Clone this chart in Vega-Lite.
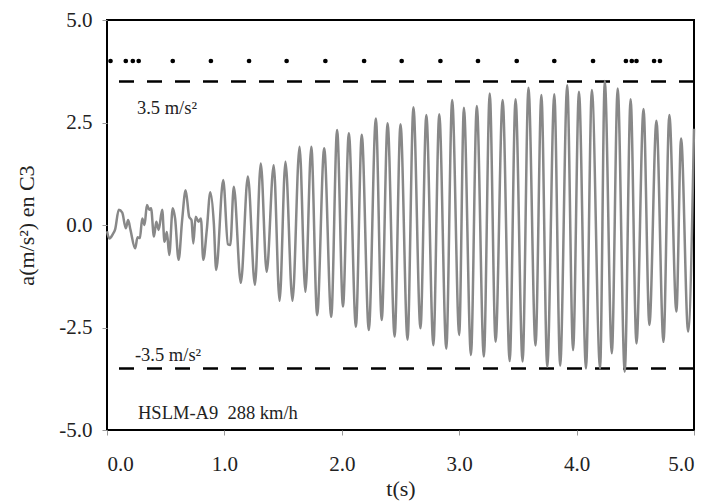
{
  "$schema": "https://vega.github.io/schema/vega-lite/v6.json",
  "width": 587,
  "height": 410,
  "autosize": {"type": "none"},
  "padding": {"left": 107, "top": 20, "right": 17, "bottom": 74},
  "background": "white",
  "config": {
    "view": {"stroke": "black", "strokeWidth": 2},
    "font": "serif",
    "axis": {
      "grid": false,
      "domain": false,
      "tickColor": "#999999",
      "tickSize": 5,
      "labelFont": "serif",
      "labelFontSize": 21,
      "labelColor": "#222222",
      "titleFont": "serif",
      "titleFontSize": 22,
      "titleFontWeight": "normal",
      "titleColor": "#222222"
    },
    "text": {"font": "serif"}
  },
  "datasets": {
    "signal": [
      {"t": 0.00, "a": -0.15}, {"t": 0.02, "a": -0.33}, {"t": 0.05, "a": -0.22}, {"t": 0.07, "a": -0.10},
      {"t": 0.10, "a": 0.37}, {"t": 0.13, "a": 0.30}, {"t": 0.16, "a": -0.08}, {"t": 0.18, "a": 0.12},
      {"t": 0.20, "a": -0.12}, {"t": 0.24, "a": -0.57}, {"t": 0.26, "a": -0.30}, {"t": 0.28, "a": -0.32},
      {"t": 0.30, "a": 0.16}, {"t": 0.32, "a": 0.00}, {"t": 0.34, "a": 0.49}, {"t": 0.36, "a": 0.37},
      {"t": 0.375, "a": 0.41}, {"t": 0.40, "a": -0.28}, {"t": 0.42, "a": 0.08}, {"t": 0.44, "a": -0.12},
      {"t": 0.47, "a": 0.37}, {"t": 0.49, "a": -0.41}, {"t": 0.51, "a": -0.17}, {"t": 0.53, "a": -0.73},
      {"t": 0.56, "a": 0.41}, {"t": 0.58, "a": 0.16}, {"t": 0.61, "a": -0.85}, {"t": 0.64, "a": 0.12},
      {"t": 0.67, "a": 0.85}, {"t": 0.70, "a": 0.20}, {"t": 0.72, "a": 0.12}, {"t": 0.735, "a": -0.45},
      {"t": 0.755, "a": 0.20}, {"t": 0.78, "a": 0.08}, {"t": 0.80, "a": 0.16}, {"t": 0.82, "a": -0.85},
      {"t": 0.85, "a": -0.12}, {"t": 0.88, "a": 0.80}, {"t": 0.91, "a": 0.04}, {"t": 0.93, "a": -1.10},
      {"t": 0.99, "a": 1.10}, {"t": 1.03, "a": -0.47}, {"t": 1.05, "a": -0.49}, {"t": 1.08, "a": 0.93},
      {"t": 1.14, "a": -1.41}, {"t": 1.20, "a": 1.18}, {"t": 1.26, "a": -1.46}, {"t": 1.31, "a": 1.50},
      {"t": 1.36, "a": -1.14}, {"t": 1.42, "a": 1.46}, {"t": 1.47, "a": -1.85}, {"t": 1.52, "a": 1.54},
      {"t": 1.58, "a": -1.85}, {"t": 1.64, "a": 1.91}, {"t": 1.69, "a": -1.63}, {"t": 1.74, "a": 1.91},
      {"t": 1.79, "a": -2.20}, {"t": 1.85, "a": 1.87}, {"t": 1.91, "a": -2.24}, {"t": 1.96, "a": 2.32},
      {"t": 2.01, "a": -1.99}, {"t": 2.06, "a": 2.24}, {"t": 2.12, "a": -2.48}, {"t": 2.17, "a": 2.20},
      {"t": 2.23, "a": -2.56}, {"t": 2.29, "a": 2.60}, {"t": 2.34, "a": -2.32}, {"t": 2.39, "a": 2.48},
      {"t": 2.45, "a": -2.72}, {"t": 2.50, "a": 2.46}, {"t": 2.56, "a": -2.80}, {"t": 2.61, "a": 2.87},
      {"t": 2.67, "a": -2.52}, {"t": 2.72, "a": 2.68}, {"t": 2.78, "a": -2.93}, {"t": 2.83, "a": 2.70},
      {"t": 2.89, "a": -3.02}, {"t": 2.94, "a": 3.05}, {"t": 3.00, "a": -2.68}, {"t": 3.04, "a": 2.86},
      {"t": 3.10, "a": -3.17}, {"t": 3.15, "a": 2.90}, {"t": 3.21, "a": -3.21}, {"t": 3.26, "a": 3.21},
      {"t": 3.31, "a": -2.85}, {"t": 3.37, "a": 3.05}, {"t": 3.43, "a": -3.32}, {"t": 3.48, "a": 3.07},
      {"t": 3.54, "a": -3.33}, {"t": 3.59, "a": 3.35}, {"t": 3.65, "a": -2.94}, {"t": 3.70, "a": 3.17},
      {"t": 3.75, "a": -3.46}, {"t": 3.81, "a": 3.19}, {"t": 3.86, "a": -3.43}, {"t": 3.92, "a": 3.41},
      {"t": 3.97, "a": -3.05}, {"t": 4.02, "a": 3.25}, {"t": 4.08, "a": -3.50}, {"t": 4.13, "a": 3.29},
      {"t": 4.20, "a": -3.50}, {"t": 4.24, "a": 3.51}, {"t": 4.30, "a": -3.13}, {"t": 4.35, "a": 3.33},
      {"t": 4.41, "a": -3.58}, {"t": 4.46, "a": 3.07}, {"t": 4.51, "a": -2.89}, {"t": 4.57, "a": 2.83},
      {"t": 4.62, "a": -2.44}, {"t": 4.68, "a": 2.54}, {"t": 4.74, "a": -2.85}, {"t": 4.79, "a": 2.68},
      {"t": 4.85, "a": -2.11}, {"t": 4.89, "a": 2.11}, {"t": 4.95, "a": -2.60}, {"t": 5.00, "a": 2.35}
    ],
    "limits": [{"a": 3.5}, {"a": -3.5}],
    "marks": [
      {"t": 0.03, "a": 4}, {"t": 0.16, "a": 4}, {"t": 0.22, "a": 4}, {"t": 0.27, "a": 4},
      {"t": 0.56, "a": 4}, {"t": 0.885, "a": 4}, {"t": 1.21, "a": 4}, {"t": 1.53, "a": 4},
      {"t": 1.86, "a": 4}, {"t": 2.19, "a": 4}, {"t": 2.51, "a": 4}, {"t": 2.84, "a": 4},
      {"t": 3.16, "a": 4}, {"t": 3.49, "a": 4}, {"t": 3.81, "a": 4}, {"t": 4.14, "a": 4},
      {"t": 4.42, "a": 4}, {"t": 4.47, "a": 4}, {"t": 4.51, "a": 4}, {"t": 4.66, "a": 4},
      {"t": 4.71, "a": 4}
    ],
    "labels": [
      {"t": 0.255, "a": 2.85, "label": "3.5 m/s²"},
      {"t": 0.238, "a": -3.17, "label": "-3.5 m/s²"},
      {"t": 0.264, "a": -4.59, "label": "HSLM-A9\u00a0 288 km/h"}
    ]
  },
  "encoding": {
    "x": {
      "field": "t", "type": "quantitative",
      "scale": {"domain": [0, 5], "nice": false, "zero": false},
      "axis": {"values": [0, 1, 2, 3, 4, 5], "format": ".1f", "title": "t(s)", "labelPadding": 18, "titlePadding": 4}
    },
    "y": {
      "field": "a", "type": "quantitative",
      "scale": {"domain": [-5, 5], "nice": false, "zero": false},
      "axis": {
        "values": [-5, -2.5, 0, 2.5, 5],
        "labelExpr": "datum.value < 0 ? '-' + format(-datum.value, '.1f') : format(datum.value, '.1f')",
        "title": "a(m/s²) en C3", "labelPadding": 10, "titlePadding": 20
      }
    }
  },
  "layer": [
    {
      "data": {"name": "limits"},
      "mark": {"type": "rule", "color": "black", "strokeWidth": 2.5, "strokeDash": [15, 13]},
      "encoding": {"x": null}
    },
    {
      "data": {"name": "signal"},
      "mark": {"type": "line", "color": "#888888", "strokeWidth": 2.5, "interpolate": "monotone"}
    },
    {
      "data": {"name": "marks"},
      "mark": {"type": "point", "filled": true, "color": "black", "size": 22, "opacity": 1}
    },
    {
      "data": {"name": "labels"},
      "mark": {"type": "text", "align": "left", "baseline": "middle", "fontSize": 18.5, "color": "#222222", "font": "serif"},
      "encoding": {"text": {"field": "label"}}
    }
  ]
}
